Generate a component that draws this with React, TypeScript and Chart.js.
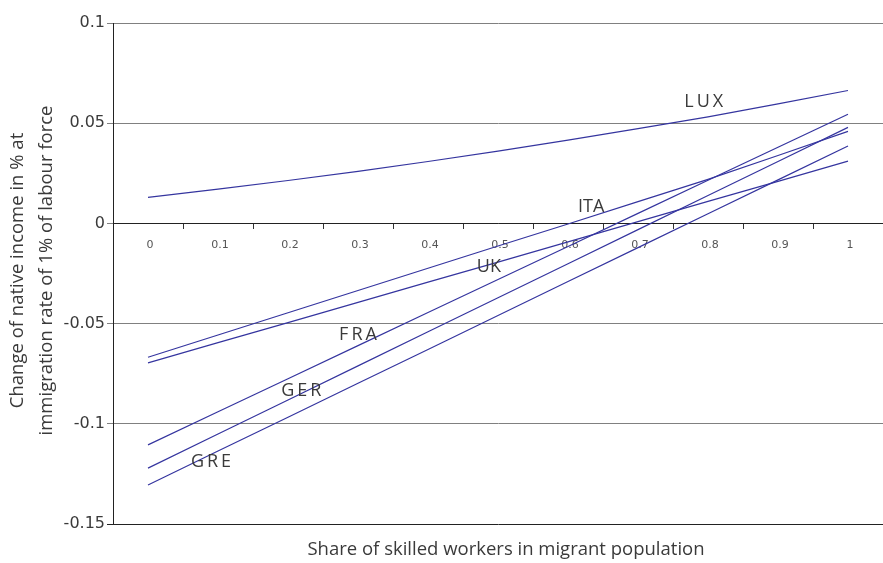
import React, { useEffect, useRef } from "react";
import { Chart, registerables } from "chart.js";

Chart.register(...registerables);

const categories = ["0", "0.1", "0.2", "0.3", "0.4", "0.5", "0.6", "0.7", "0.8", "0.9", "1"];

const lux = [0.013, 0.0171, 0.0214, 0.026, 0.0309, 0.0361, 0.0416, 0.0473, 0.0532, 0.0596, 0.0663];
const ita = [-0.0668, -0.0557, -0.0446, -0.0335, -0.0224, -0.0113, -0.0003, 0.0109, 0.022, 0.0339, 0.0459];
const uk = [-0.0696, -0.0595, -0.0495, -0.0394, -0.0293, -0.0193, -0.0092, 0.0009, 0.011, 0.021, 0.0311];
const fra = [-0.1105, -0.094, -0.0775, -0.061, -0.0445, -0.028, -0.0115, 0.005, 0.0215, 0.038, 0.0545];
const ger = [-0.1221, -0.1051, -0.0881, -0.0711, -0.0541, -0.0371, -0.0201, -0.0031, 0.0139, 0.0309, 0.0479];
const gre = [-0.1305, -0.1136, -0.0967, -0.0798, -0.0629, -0.046, -0.029, -0.0121, 0.0048, 0.0217, 0.0386];

const yTickValues = [-0.15, -0.1, -0.05, 0, 0.05, 0.1];
const yTickLabels = ["-0.15", "-0.1", "-0.05", "0", "0.05", "0.1"];

const seriesNames = ["LUX", "ITA", "UK", "FRA", "GER", "GRE"];
const seriesValues = [lux, ita, uk, fra, ger, gre];

// label anchors in data units (category index, value)
const labelIndex = [7.94, 6.33, 4.87, 3.0, 2.19, 0.9];
const labelValue = [0.0605, 0.0082, -0.0217, -0.0555, -0.0834, -0.119];
const labelSpaced = [true, false, false, true, true, true];

const yTitleLines = ["Change of native income in % at", "immigration rate of 1% of labour force"];
const xTitle = "Share of skilled workers in migrant population";

const LINE_COLOR = "#35359f";
const TEXT_COLOR = "#3a3a3a";

const decorPlugin = {
  id: "decor",
  afterDraw(chart: any) {
    const ctx = chart.ctx as CanvasRenderingContext2D;
    const xs = chart.scales.x;
    const ys = chart.scales.y;
    const area = chart.chartArea;
    ctx.save();
    ctx.fillStyle = TEXT_COLOR;
    ctx.textAlign = "center";
    ctx.textBaseline = "middle";
    // series labels
    ctx.font = "18px 'Open Sans'";
    seriesNames.forEach((name, i) => {
      const px = xs.getPixelForValue(labelIndex[i]);
      const py = ys.getPixelForValue(labelValue[i]);
      (ctx as any).letterSpacing = labelSpaced[i] ? "3px" : "0px";
      ctx.fillText(name, px + (labelSpaced[i] ? 1.5 : 0), py);
    });
    (ctx as any).letterSpacing = "0px";
    // x title
    ctx.font = "18.5px 'Open Sans'";
    ctx.fillText(xTitle, (area.left + area.right) / 2 + 8, 550);
    // y title
    const cy = (area.top + area.bottom) / 2 - 3;
    const xPos = [18, 47];
    yTitleLines.forEach((line, i) => {
      ctx.save();
      ctx.translate(xPos[i], cy);
      ctx.rotate(-Math.PI / 2);
      ctx.fillText(line, 0, 0);
      ctx.restore();
    });
    ctx.restore();
  },
};

export default function App() {
  const canvasRef = useRef<HTMLCanvasElement | null>(null);

  useEffect(() => {
    if (!canvasRef.current) return;
    const chart = new Chart(canvasRef.current, {
      type: "line",
      data: {
        labels: categories,
        datasets: seriesNames.map((name, i) => ({
          label: name,
          data: seriesValues[i],
          borderColor: LINE_COLOR,
          backgroundColor: LINE_COLOR,
          borderWidth: 1.2,
          pointRadius: 0,
          tension: 0,
          fill: false,
        })),
      },
      options: {
        responsive: false,
        animation: false,
        layout: { padding: { top: 23, bottom: 39, left: 0, right: 0 } },
        plugins: {
          legend: { display: false },
          tooltip: { enabled: false },
          title: { display: false },
        },
        scales: {
          x: {
            type: "category",
            position: { y: 0 } as any,
            offset: true,
            grid: {
              offset: true,
              drawOnChartArea: false,
              drawTicks: true,
              tickLength: 5,
              color: "#333333",
            },
            border: { display: true, color: "#222222", width: 1 },
            ticks: {
              color: "#555555",
              font: { family: "'DejaVu Sans'", size: 11 },
              padding: 10,
              labelOffset: 2,
              maxRotation: 0,
              autoSkip: false,
            },
          },
          y: {
            type: "linear",
            min: -0.15,
            max: 0.1,
            afterFit(scale: any) {
              scale.width = 113;
            },
            afterBuildTicks(scale: any) {
              scale.ticks = yTickValues.map((v) => ({ value: v }));
            },
            grid: {
              color: (c: any) => (c.tick && c.tick.value === -0.15 ? "#222222" : "#808080"),
              drawTicks: true,
              tickLength: 6,
              lineWidth: 1,
            },
            border: { display: true, color: "#222222", width: 1 },
            ticks: {
              color: TEXT_COLOR,
              font: { family: "'DejaVu Sans'", size: 16 },
              padding: 2,
              callback: (v: any) => {
                const idx = yTickValues.findIndex((t) => Math.abs(t - Number(v)) < 1e-9);
                return idx >= 0 ? yTickLabels[idx] : "";
              },
            },
          },
        },
      },
      plugins: [decorPlugin],
    });
    return () => chart.destroy();
  }, []);

  return (
    <div style={{ position: "fixed", left: 0, top: 0, width: 883, height: 563, background: "#fff" }}>
      <canvas ref={canvasRef} width={883} height={563} />
    </div>
  );
}
